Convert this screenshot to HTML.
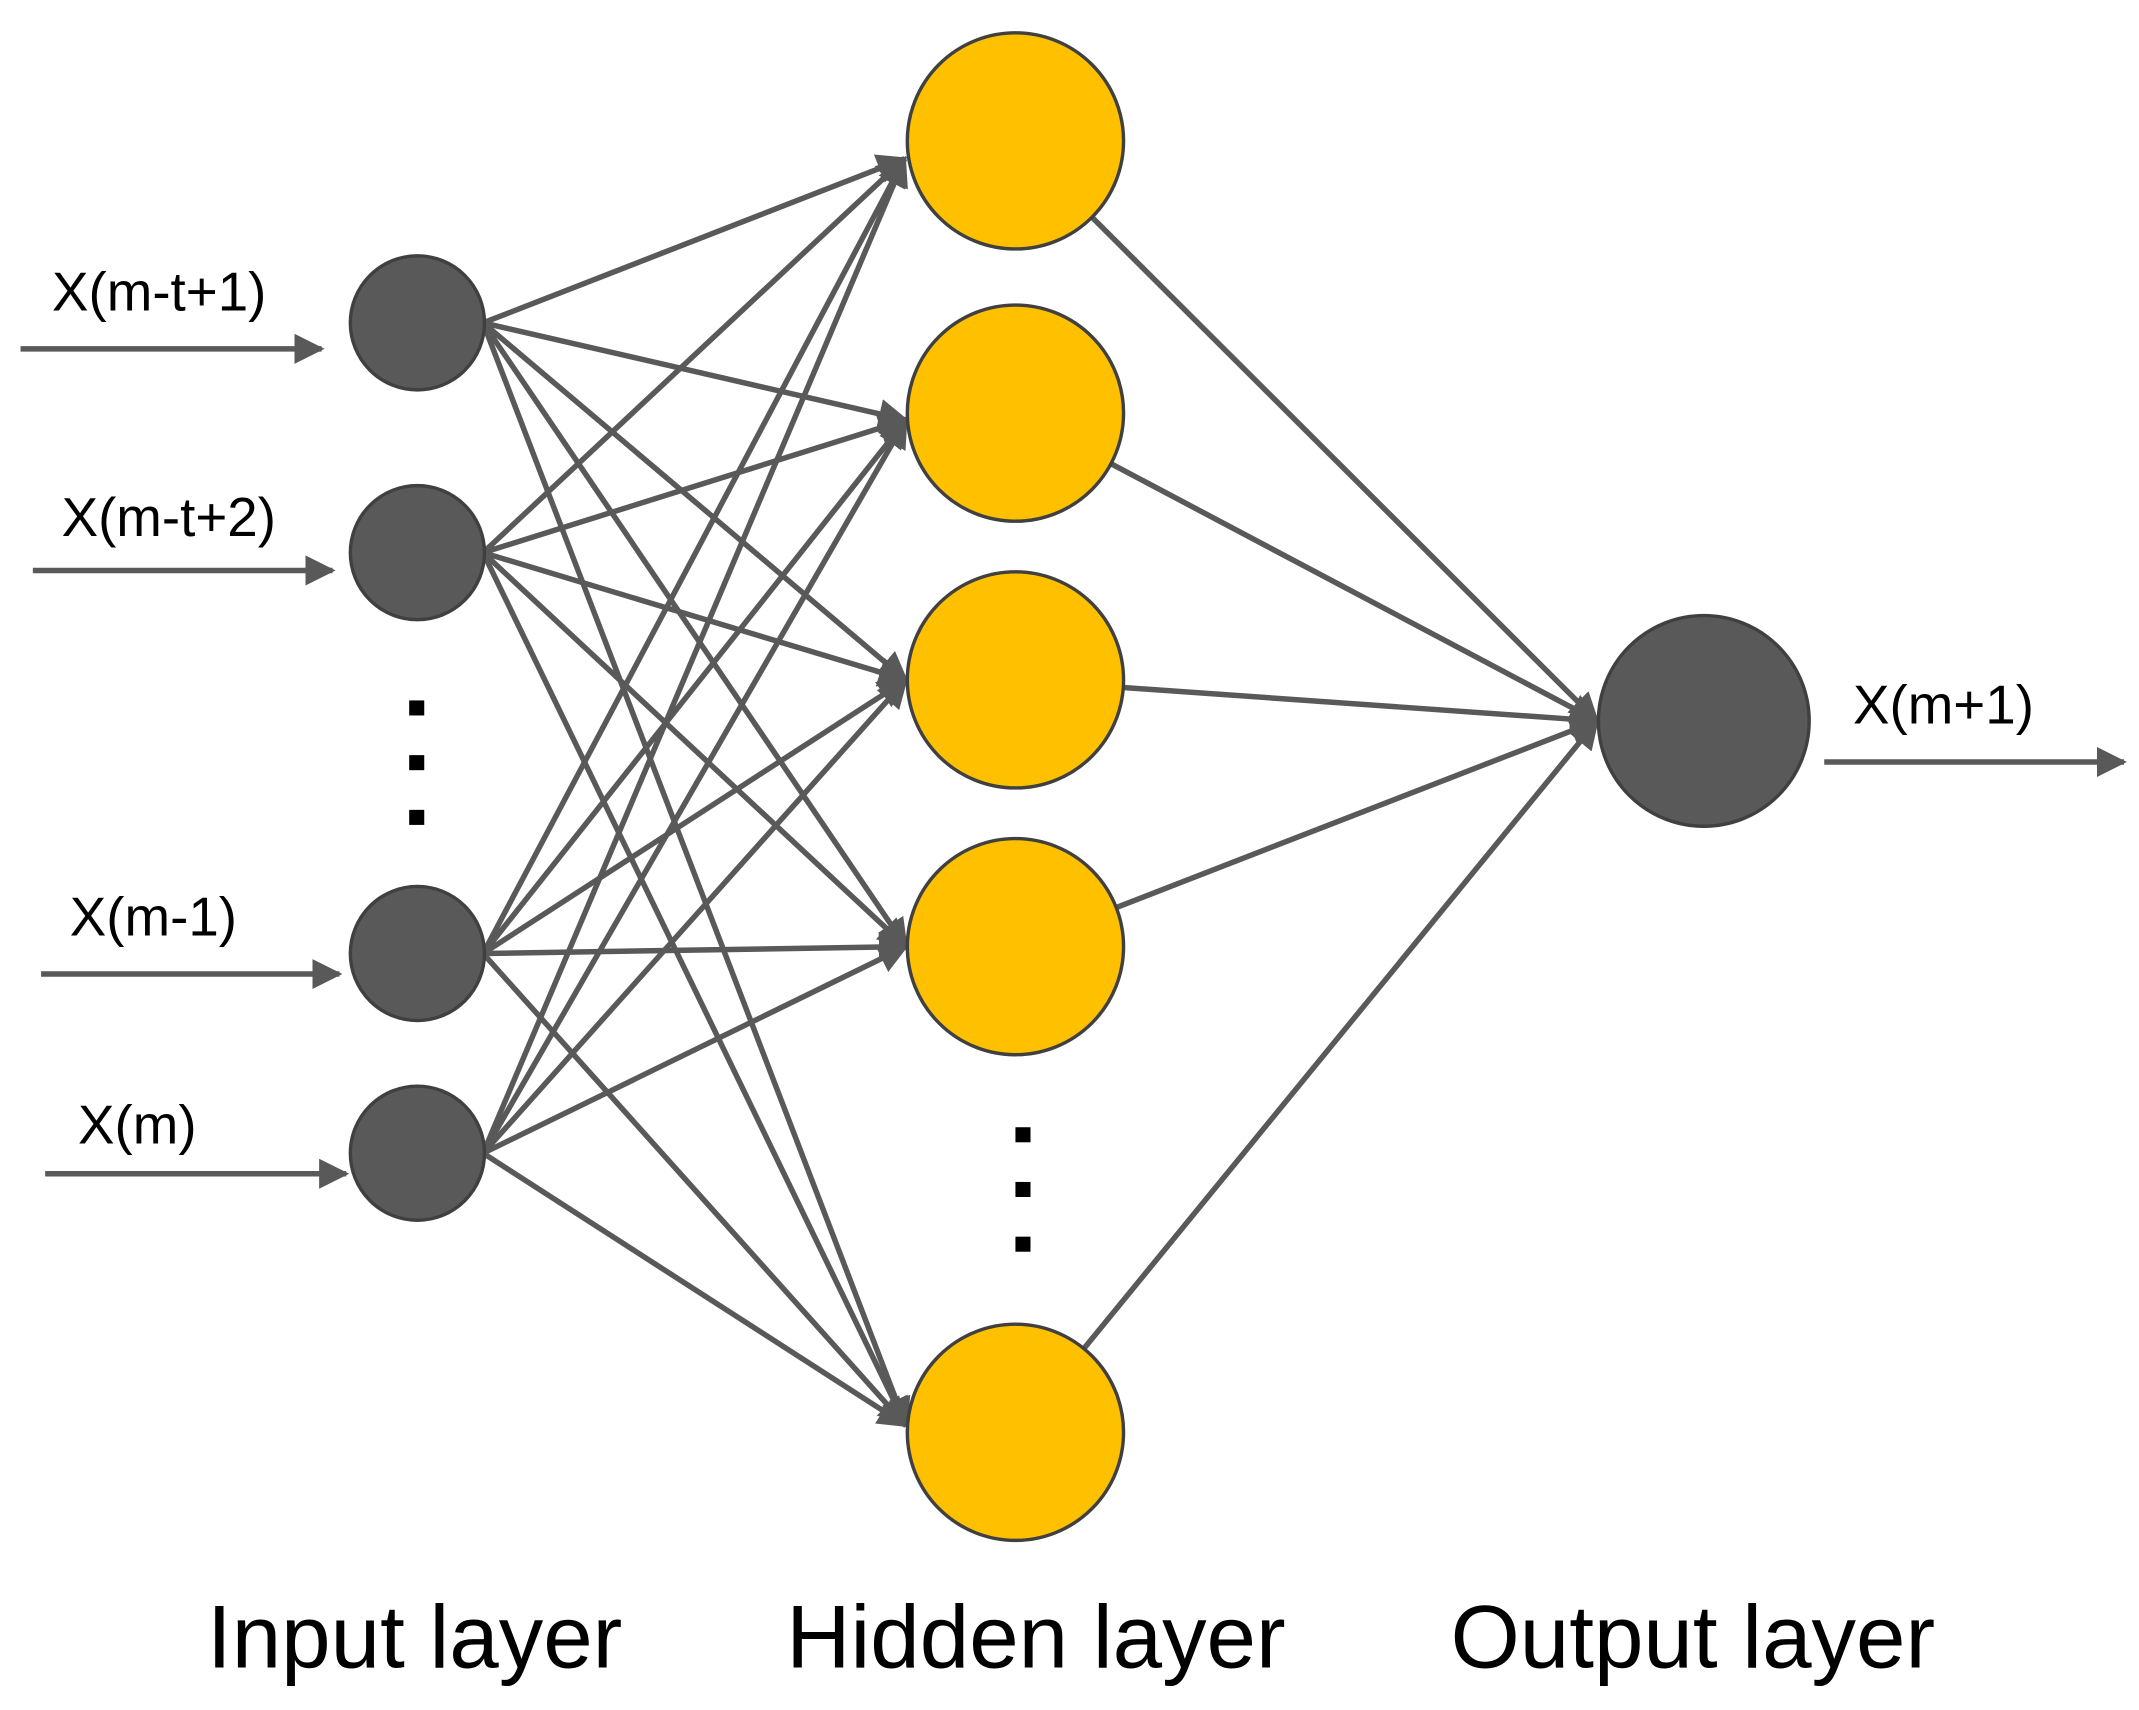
<!DOCTYPE html>
<html><head><meta charset="utf-8"><style>
html,body{margin:0;padding:0;background:#fff;}
svg{display:block;}
text{font-family:"Liberation Sans",Arial,sans-serif;fill:#000;}
</style></head><body>
<svg id="s" width="2139" height="1710" viewBox="0 0 1563 1250" preserveAspectRatio="none" xmlns="http://www.w3.org/2000/svg">
<defs>
<marker id="a" viewBox="0 0 10 10" refX="9" refY="5" markerWidth="5.5" markerHeight="5.5" markerUnits="strokeWidth" orient="auto">
<path d="M0,0 L10,5 L0,10 z" fill="#595959"/></marker>
</defs>
<g id="edges" stroke="#595959" stroke-width="4" fill="none"></g>
<g id="nodes"></g>
<g fill="#000">
<rect x="299" y="512" width="11" height="11"/><rect x="299" y="552" width="11" height="11"/><rect x="299" y="592" width="11" height="11"/>
<rect x="742" y="824" width="11" height="11"/><rect x="742" y="864" width="11" height="11"/><rect x="742" y="904" width="11" height="11"/>
</g>
<g stroke="#595959" stroke-width="4" marker-end="url(#a)">
<line x1="15" y1="255" x2="235" y2="255"/>
<line x1="24" y1="417" x2="243" y2="417"/>
<line x1="30" y1="712" x2="248" y2="712"/>
<line x1="33" y1="858" x2="253" y2="858"/>
<line x1="1333" y1="557" x2="1552" y2="557"/>
</g>
<g font-size="40">
<text x="38" y="227">X(m-t+1)</text>
<text x="45" y="392">X(m-t+2)</text>
<text x="51" y="684">X(m-1)</text>
<text x="57" y="836">X(m)</text>
<text x="1354" y="529">X(m+1)</text>
</g>
<g font-size="65" text-anchor="middle">
<text x="303" y="1219">Input layer</text>
<text x="757" y="1219">Hidden layer</text>
<text x="1237" y="1219">Output layer</text>
</g>
</svg>
<script>
var NS="http://www.w3.org/2000/svg";
var inp=[[305,236],[305,404],[305,697],[305,843]],ri=49;
var hid=[[742,103],[742,302],[742,497],[742,692],[742,1047]],rh=79;
var tips=[[661,116],[662,307],[662,497],[662,692],[662,1042]];
var out=[1245,527],ro=77,otip=[1167,527];
var E=document.getElementById("edges"),N=document.getElementById("nodes");
function ln(x1,y1,x2,y2){
 var l=document.createElementNS(NS,"line");
 l.setAttribute("x1",x1);l.setAttribute("y1",y1);
 l.setAttribute("x2",x2);l.setAttribute("y2",y2);
 l.setAttribute("marker-end","url(#a)");
 E.appendChild(l);
}
inp.forEach(function(i){tips.forEach(function(t){ln(i[0]+48,i[1],t[0],t[1]);});});
hid.forEach(function(h){var dx=otip[0]-h[0],dy=otip[1]-h[1],d=Math.hypot(dx,dy);ln(h[0]+dx/d*rh,h[1]+dy/d*rh,otip[0],otip[1]);});
function circ(c,r,f){var e=document.createElementNS(NS,"circle");e.setAttribute("cx",c[0]);e.setAttribute("cy",c[1]);e.setAttribute("r",r);e.setAttribute("fill",f);e.setAttribute("stroke","#404040");e.setAttribute("stroke-width","2.5");N.appendChild(e);}
inp.forEach(function(i){circ(i,ri,"#595959");});
hid.forEach(function(h){circ(h,rh,"#FFC000");});
circ(out,ro,"#595959");
</script>
</body></html>
